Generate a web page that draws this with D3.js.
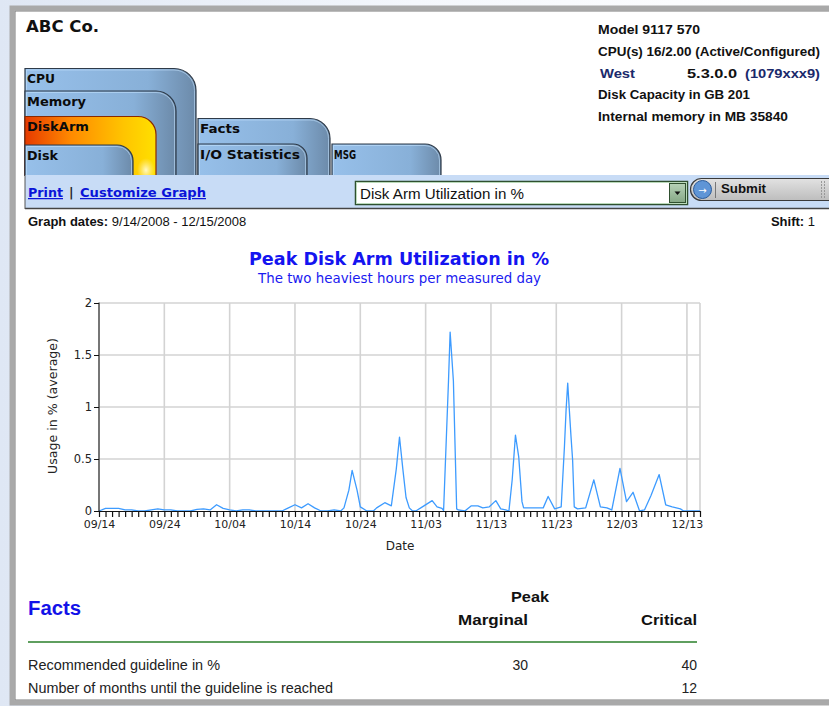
<!DOCTYPE html>
<html>
<head>
<meta charset="utf-8">
<script src="https://cdn.jsdelivr.net/npm/d3@7"></script>
<style>
html,body{margin:0;padding:0;background:#fff;}
svg{display:block;}
</style>
</head>
<body>
<script>
// ---------------- DATA ----------------
const company = "ABC Co.";
const infoLines = ["Model 9117 570", "CPU(s) 16/2.00 (Active/Configured)", "", "Disk Capacity in GB 201", "Internal memory in MB 35840"];
const region = "West";
const osLevel = "5.3.0.0";
const serial = "(1079xxx9)";
const leftTabs = ["CPU", "Memory", "DiskArm", "Disk"];
const rightTabs = ["Facts", "I/O Statistics", "MSG"];
const graphSelection = "Disk Arm Utilization in %";
const graphDates = "9/14/2008 - 12/15/2008";
const shift = "1";
const chartTitle = "Peak Disk Arm Utilization in %";
const chartSubtitle = "The two heaviest hours per measured day";
const yAxisTitle = "Usage in % (average)";
const xAxisTitle = "Date";
const yTicks = [0, 0.5, 1, 1.5, 2];
const xTickDates = ["2008-09-14","2008-09-24","2008-10-04","2008-10-14","2008-10-24","2008-11-03","2008-11-13","2008-11-23","2008-12-03","2008-12-13"];
const xDomain = ["2008-09-14", "2008-12-15"];

const times = [
"2008-09-14 00","2008-09-15 00","2008-09-17 00","2008-09-18 00","2008-09-19 00","2008-09-20 00","2008-09-21 00","2008-09-22 00","2008-09-23 00","2008-09-24 00","2008-09-25 00","2008-09-26 00","2008-09-28 00","2008-09-29 00","2008-09-30 00",
"2008-10-01 00","2008-10-02 00","2008-10-03 00","2008-10-04 00","2008-10-05 00","2008-10-06 00","2008-10-07 00","2008-10-08 00","2008-10-12 00","2008-10-13 00","2008-10-14 00","2008-10-15 00","2008-10-16 00","2008-10-17 00","2008-10-18 00","2008-10-19 00","2008-10-20 00","2008-10-21 00","2008-10-21 12","2008-10-22 06","2008-10-22 18","2008-10-23 12","2008-10-24 00","2008-10-25 00","2008-10-26 00","2008-10-26 12","2008-10-27 18","2008-10-28 18","2008-10-29 12","2008-10-30 00","2008-10-30 12","2008-10-31 00","2008-10-31 12",
"2008-11-01 00","2008-11-01 12","2008-11-02 12","2008-11-04 00","2008-11-04 18","2008-11-05 12","2008-11-05 18","2008-11-06 12","2008-11-06 18","2008-11-07 06","2008-11-07 18","2008-11-08 00","2008-11-09 00","2008-11-10 00","2008-11-11 00","2008-11-11 18","2008-11-12 18","2008-11-13 18","2008-11-14 12","2008-11-15 06","2008-11-15 18","2008-11-16 06","2008-11-16 18","2008-11-17 06","2008-11-17 18","2008-11-18 00","2008-11-21 00","2008-11-21 18","2008-11-22 18","2008-11-23 18","2008-11-24 06","2008-11-24 12","2008-11-24 18","2008-11-25 00","2008-11-25 06","2008-11-25 12","2008-11-25 18","2008-11-26 06","2008-11-27 12","2008-11-28 18","2008-11-29 18","2008-11-30 18",
"2008-12-01 12","2008-12-02 18","2008-12-03 00","2008-12-03 18","2008-12-04 18","2008-12-05 18","2008-12-06 12","2008-12-07 12","2008-12-08 18","2008-12-09 18","2008-12-10 18","2008-12-12 00","2008-12-12 12","2008-12-15 00"];
const usage = [
0,0.025,0.025,0.01,0.01,0,0,0.01,0.02,0.01,0.01,0,0,0.015,0.02,
0.01,0.06,0.025,0.01,0,0.01,0.01,0,0,0.03,0.06,0.03,0.07,0.03,0,0,0.01,0,0.03,0.2,0.39,0.2,0.04,0,0,0.03,0.08,0.05,0.4,0.71,0.41,0.13,0.03,
0,0,0.04,0.1,0.04,0.025,0.005,1.25,1.72,1.25,0.02,0.01,0,0.05,0.05,0.03,0.04,0.1,0.02,0.01,0,0.3,0.73,0.52,0.09,0.03,0.03,0.14,0.02,0.04,0.62,0.97,1.23,0.97,0.72,0.49,0.04,0.02,0.03,0.30,0.04,0.03,
0.01,0.41,0.33,0.09,0.18,0,0.01,0.15,0.35,0.06,0.04,0.02,0,0];

const factsTitle = "Facts";
const factsGroup = "Peak";
const factsColumns = ["Marginal", "Critical"];
const factsRows = ["Recommended guideline in %", "Number of months until the guideline is reached"];
const marginalValues = ["30", ""];
const criticalValues = ["40", "12"];

// ---------------- DRAW ----------------
const W = 829, H = 706;
const svg = d3.select("body").append("svg").attr("width", W).attr("height", H);
const defs = svg.append("defs");

function lg(id, stops, x2 = 1, y2 = 0) {
  const g = defs.append("linearGradient").attr("id", id)
    .attr("x1", 0).attr("y1", 0).attr("x2", x2).attr("y2", y2);
  stops.forEach(s => g.append("stop").attr("offset", s[0]).attr("stop-color", s[1]));
}
lg("bgGrad", [[0, "#dfe7f4"], [0.5, "#f4f7fc"], [1, "#ffffff"]]);
lg("tabGrad", [[0, "#97c0ea"], [0.72, "#88b0d8"], [1, "#6c8aa9"]]);
lg("armGrad", [[0, "#e63a00"], [0.35, "#ff8a00"], [0.75, "#ffc400"], [1, "#ffe000"]]);
lg("btnGrad", [[0, "#e2e2e2"], [1, "#bdbdbd"]], 0, 1);
lg("ddGrad", [[0, "#b6d2b6"], [1, "#86a886"]], 0, 1);
const rg = defs.append("radialGradient").attr("id", "glow");
rg.append("stop").attr("offset", 0).attr("stop-color", "#fffbd0").attr("stop-opacity", 0.95);
rg.append("stop").attr("offset", 1).attr("stop-color", "#fff0a0").attr("stop-opacity", 0);

// background outside the window frame
svg.append("rect").attr("width", W).attr("height", H).attr("fill", "url(#bgGrad)");
// frame
svg.append("rect").attr("x", 12).attr("y", 8).attr("width", W + 20).attr("height", 695)
  .attr("fill", "#fff").attr("stroke", "#a9a9a9").attr("stroke-width", 5);
svg.append("rect").attr("x", 15).attr("y", 11).attr("width", W + 20).attr("height", 689)
  .attr("fill", "none").attr("stroke", "#7a7a7a").attr("stroke-width", 1);

// header
svg.append("text").attr("x", 26).attr("y", 32).text(company)
  .attr("font-family", "DejaVu Sans").attr("font-weight", "bold").attr("font-size", 16)
  .attr("textLength", 73).attr("lengthAdjust", "spacingAndGlyphs").attr("fill", "#111");

const infoG = svg.append("g").attr("font-family", "Liberation Sans").attr("font-weight", "bold").attr("font-size", 13).attr("fill", "#111");
const infoWidths = [102, 222, 0, 152, 190];
const infoBase = [34, 55.5, 77.5, 99, 121];
infoLines.forEach((t, i) => {
  if (!t) return;
  infoG.append("text").attr("x", 598).attr("y", infoBase[i]).text(t)
    .attr("textLength", infoWidths[i]).attr("lengthAdjust", "spacingAndGlyphs");
});
infoG.append("text").attr("x", 600).attr("y", infoBase[2]).text(region).attr("fill", "#1b2a6b")
  .attr("textLength", 35).attr("lengthAdjust", "spacingAndGlyphs");
infoG.append("text").attr("x", 687).attr("y", infoBase[2]).text(osLevel)
  .attr("textLength", 50).attr("lengthAdjust", "spacingAndGlyphs");
infoG.append("text").attr("x", 745).attr("y", infoBase[2]).text(serial).attr("fill", "#1b2a6b")
  .attr("textLength", 75).attr("lengthAdjust", "spacingAndGlyphs");

// tabs
function tabPath(x0, top, right, bottom, r) {
  return `M${x0},${bottom} V${top} H${right - r} A${r},${r} 0 0 1 ${right},${top + r} V${bottom}`;
}
const tabBottom = 176;
const leftTabGeom = [
  {top: 68.5, right: 196, r: 22, w: 28, base: 83},
  {top: 91, right: 176, r: 20, w: 59, base: 106},
  {top: 116.5, right: 156, r: 18, w: 62, base: 131},
  {top: 145, right: 133, r: 16, w: 31, base: 159.5}
];
leftTabs.forEach((t, i) => {
  const g = leftTabGeom[i];
  const fill = t === "DiskArm" ? "url(#armGrad)" : "url(#tabGrad)";
  svg.append("path").attr("d", tabPath(25, g.top, g.right, tabBottom, g.r))
    .attr("fill", fill).attr("stroke", t === "DiskArm" ? "#8a2a00" : "#2e3a48").attr("stroke-width", 1.2);
  if (t !== "DiskArm") {
    svg.append("path").attr("d", tabPath(26.5, g.top + 1.5, g.right - 1.5, tabBottom, g.r - 1.5))
      .attr("fill", "none").attr("stroke", "#c6e4ff").attr("stroke-width", 0.8).attr("opacity", 0.7);
  } else {
    svg.append("ellipse").attr("cx", g.right - 10).attr("cy", 170).attr("rx", 9).attr("ry", 12)
      .attr("fill", "url(#glow)");
  }
  svg.append("text").attr("x", 27).attr("y", g.base).text(t)
    .attr("font-family", "DejaVu Sans").attr("font-weight", "bold").attr("font-size", 11.5)
    .attr("fill", "#0b0b0b").attr("textLength", g.w).attr("lengthAdjust", "spacingAndGlyphs");
});
const rightTabGeom = [
  {x0: 198, top: 118.5, right: 330, r: 20, w: 40, lx: 200, base: 133},
  {x0: 198, top: 144, right: 307, r: 14, w: 100, lx: 200, base: 158.5},
  {x0: 332, top: 144, right: 441, r: 16, w: 22, lx: 334, base: 158.5}
];
rightTabs.forEach((t, i) => {
  const g = rightTabGeom[i];
  svg.append("path").attr("d", tabPath(g.x0, g.top, g.right, tabBottom, g.r))
    .attr("fill", "url(#tabGrad)").attr("stroke", "#2e3a48").attr("stroke-width", 1.2);
  svg.append("path").attr("d", tabPath(g.x0 + 1.5, g.top + 1.5, g.right - 1.5, tabBottom, g.r - 1.5))
    .attr("fill", "none").attr("stroke", "#c6e4ff").attr("stroke-width", 0.8).attr("opacity", 0.7);
  svg.append("text").attr("x", g.lx).attr("y", g.base).text(t)
    .attr("font-family", "DejaVu Sans").attr("font-weight", "bold").attr("font-size", 11.5)
    .attr("fill", "#0b0b0b").attr("textLength", g.w).attr("lengthAdjust", "spacingAndGlyphs");
});

// toolbar
svg.append("rect").attr("x", 25).attr("y", 175).attr("width", W).attr("height", 33)
  .attr("fill", "#c8dcf6");
svg.append("line").attr("x1", 25).attr("x2", W).attr("y1", 208.5).attr("y2", 208.5).attr("stroke", "#444").attr("stroke-width", 1.5);
svg.append("line").attr("x1", 25).attr("x2", 25).attr("y1", 175).attr("y2", 209).attr("stroke", "#555").attr("stroke-width", 1);

const linkG = svg.append("g").attr("font-family", "DejaVu Sans").attr("font-weight", "bold").attr("font-size", 12.5);
linkG.append("text").attr("x", 28).attr("y", 197).text("Print").attr("fill", "#0a14d8")
  .attr("text-decoration", "underline").attr("textLength", 35).attr("lengthAdjust", "spacingAndGlyphs");
linkG.append("text").attr("x", 69).attr("y", 197).text("|").attr("fill", "#222");
linkG.append("text").attr("x", 80).attr("y", 197).text("Customize Graph").attr("fill", "#0a14d8")
  .attr("text-decoration", "underline").attr("textLength", 126).attr("lengthAdjust", "spacingAndGlyphs");

// select box
svg.append("rect").attr("x", 355.5).attr("y", 181.5).attr("width", 332).attr("height", 23)
  .attr("fill", "#fff").attr("stroke", "#2f4f2f").attr("stroke-width", 1.5);
svg.append("rect").attr("x", 356.5).attr("y", 182.5).attr("width", 330).attr("height", 21)
  .attr("fill", "none").attr("stroke", "#b9d9b9").attr("stroke-width", 1);
svg.append("text").attr("x", 360).attr("y", 198.5).text(graphSelection)
  .attr("font-family", "Liberation Sans").attr("font-size", 14).attr("fill", "#111")
  .attr("textLength", 164).attr("lengthAdjust", "spacingAndGlyphs");
svg.append("rect").attr("x", 669.5).attr("y", 183.5).attr("width", 16).attr("height", 19)
  .attr("fill", "url(#ddGrad)").attr("stroke", "#2f4f2f").attr("stroke-width", 1);
svg.append("path").attr("d", "M674.5,191.5 h6 l-3,3.5 z").attr("fill", "#111");

// submit button
svg.append("rect").attr("x", 690.5).attr("y", 178.5).attr("width", 150).attr("height", 22).attr("rx", 11)
  .attr("fill", "url(#btnGrad)").attr("stroke", "#3a3a3a").attr("stroke-width", 1.2);
svg.append("circle").attr("cx", 702.5).attr("cy", 189.5).attr("r", 9)
  .attr("fill", "#5f95d6").attr("stroke", "#2b5c9c").attr("stroke-width", 1);
svg.append("text").attr("x", 702.5).attr("y", 193.5).attr("text-anchor", "middle").text("→")
  .attr("font-family", "DejaVu Sans").attr("font-size", 10).attr("fill", "#fff");
svg.append("line").attr("x1", 715.5).attr("x2", 715.5).attr("y1", 182).attr("y2", 198).attr("stroke", "#777");
svg.append("text").attr("x", 721).attr("y", 193).text("Submit")
  .attr("font-family", "Liberation Sans").attr("font-weight", "bold").attr("font-size", 12.5).attr("fill", "#111")
  .attr("textLength", 45).attr("lengthAdjust", "spacingAndGlyphs");
[821, 824].forEach(x => svg.append("line").attr("x1", x + .5).attr("x2", x + .5).attr("y1", 181).attr("y2", 198)
  .attr("stroke", "#999").attr("stroke-dasharray", "2,1"));

// graph dates & shift
const gd = svg.append("text").attr("x", 28).attr("y", 225.5).attr("font-family", "Liberation Sans").attr("font-size", 13).attr("fill", "#111");
gd.append("tspan").attr("font-weight", "bold").text("Graph dates:");
gd.append("tspan").text(" " + graphDates);
const sh = svg.append("text").attr("x", 815).attr("y", 225.5).attr("text-anchor", "end").attr("font-family", "Liberation Sans").attr("font-size", 13).attr("fill", "#111");
sh.append("tspan").attr("font-weight", "bold").text("Shift:");
sh.append("tspan").text(" " + shift);

// ---------------- CHART ----------------
const parseT = d3.timeParse("%Y-%m-%d %H");
const parseD = d3.timeParse("%Y-%m-%d");
const data = times.map((t, i) => ({t: parseT(t), v: usage[i]}));
const x = d3.scaleTime().domain(xDomain.map(parseD)).range([99, 700]);
const y = d3.scaleLinear().domain([0, 2]).range([511, 303]);

svg.append("text").attr("x", 399).attr("y", 265).attr("text-anchor", "middle").text(chartTitle)
  .attr("font-family", "DejaVu Sans").attr("font-weight", "bold").attr("font-size", 18).attr("fill", "#1414f0")
  .attr("textLength", 300).attr("lengthAdjust", "spacingAndGlyphs");
svg.append("text").attr("x", 399.5).attr("y", 283).attr("text-anchor", "middle").text(chartSubtitle)
  .attr("font-family", "DejaVu Sans").attr("font-size", 13.5).attr("fill", "#1a1af0")
  .attr("textLength", 283).attr("lengthAdjust", "spacingAndGlyphs");

const chart = svg.append("g");
// gridlines
const xt = xTickDates.map(parseD);
chart.append("g").selectAll("line").data(xt).join("line")
  .attr("x1", d => x(d)).attr("x2", d => x(d)).attr("y1", y(2)).attr("y2", y(0))
  .attr("stroke", "#d3d3d3").attr("stroke-width", 1.6);
chart.append("line").attr("x1", x.range()[1]).attr("x2", x.range()[1]).attr("y1", y(2)).attr("y2", y(0))
  .attr("stroke", "#d3d3d3").attr("stroke-width", 1.6);
chart.append("g").selectAll("line").data(yTicks.filter(d => d > 0)).join("line")
  .attr("x1", 99).attr("x2", 700).attr("y1", d => y(d)).attr("y2", d => y(d))
  .attr("stroke", "#d3d3d3").attr("stroke-width", 1.6);

// line
chart.append("path").datum(data)
  .attr("d", d3.line().x(d => x(d.t)).y(d => y(d.v)))
  .attr("fill", "none").attr("stroke", "#3d9bff").attr("stroke-width", 1.3).attr("stroke-linejoin", "round");

// y axis
const yAxis = chart.append("g").attr("transform", "translate(99,0)")
  .call(d3.axisLeft(y).tickValues(yTicks).tickFormat(d3.format("~g")).tickSize(5).tickPadding(2));
yAxis.select(".domain").attr("stroke", "#111").attr("d", `M0,${y(2) - 0.5}V${y(0)}`);
yAxis.selectAll("line").attr("stroke", "#111");
yAxis.selectAll("text").attr("font-family", "DejaVu Sans").attr("font-size", 11.5).attr("fill", "#222");

// x axis: daily ticks, labels every 10 days
const days = d3.timeDay.range(x.domain()[0], d3.timeDay.offset(x.domain()[1], 1));
const xAxis = chart.append("g").attr("transform", "translate(0,511)")
  .call(d3.axisBottom(x).tickValues(days).tickSize(6).tickPadding(3)
    .tickFormat(d => xt.some(t => +t === +d) ? d3.timeFormat("%m/%d")(d) : ""));
xAxis.select(".domain").attr("stroke", "#111").attr("d", "M99,0.5H700");
xAxis.selectAll("line").attr("stroke", "#111").attr("stroke-width", 1.2);
xAxis.selectAll("text").attr("font-family", "DejaVu Sans").attr("font-size", 11).attr("fill", "#222");

chart.append("text").attr("x", 400).attr("y", 549.5).attr("text-anchor", "middle").text(xAxisTitle)
  .attr("font-family", "DejaVu Sans").attr("font-size", 12).attr("fill", "#222");
chart.append("text").attr("transform", "translate(57,406) rotate(-90)").attr("text-anchor", "middle").text(yAxisTitle)
  .attr("font-family", "DejaVu Sans").attr("font-size", 12).attr("fill", "#222")
  .attr("textLength", 136).attr("lengthAdjust", "spacingAndGlyphs");

// ---------------- FACTS ----------------
const narrow = "'Liberation Sans Narrow', 'Liberation Sans', Arial";
svg.append("text").attr("x", 28).attr("y", 615).text(factsTitle)
  .attr("font-family", narrow).attr("font-weight", "bold").attr("font-size", 20).attr("fill", "#1212e8")
  .attr("textLength", 53).attr("lengthAdjust", "spacingAndGlyphs");
svg.append("text").attr("x", 530).attr("y", 602).attr("text-anchor", "middle").text(factsGroup)
  .attr("font-family", narrow).attr("font-weight", "bold").attr("font-size", 14).attr("fill", "#111")
  .attr("textLength", 38).attr("lengthAdjust", "spacingAndGlyphs");
const colRight = [528, 697];
const colW = [70, 56];
factsColumns.forEach((c, i) => {
  svg.append("text").attr("x", colRight[i]).attr("y", 625).attr("text-anchor", "end").text(c)
    .attr("font-family", narrow).attr("font-weight", "bold").attr("font-size", 14).attr("fill", "#111")
    .attr("textLength", colW[i]).attr("lengthAdjust", "spacingAndGlyphs");
});
svg.append("line").attr("x1", 28).attr("x2", 697).attr("y1", 642).attr("y2", 642)
  .attr("stroke", "#5f9f5f").attr("stroke-width", 2);
const rowW = [192, 305];
factsRows.forEach((r, i) => {
  const yy = 670 + i * 22.5;
  svg.append("text").attr("x", 28).attr("y", yy).text(r)
    .attr("font-family", narrow).attr("font-size", 14).attr("fill", "#222")
    .attr("textLength", rowW[i]).attr("lengthAdjust", "spacingAndGlyphs");
  if (marginalValues[i]) svg.append("text").attr("x", 528).attr("y", yy).attr("text-anchor", "end").text(marginalValues[i])
    .attr("font-family", narrow).attr("font-size", 14).attr("fill", "#222");
  if (criticalValues[i]) svg.append("text").attr("x", 697).attr("y", yy).attr("text-anchor", "end").text(criticalValues[i])
    .attr("font-family", narrow).attr("font-size", 14).attr("fill", "#222");
});
</script>
</body>
</html>
